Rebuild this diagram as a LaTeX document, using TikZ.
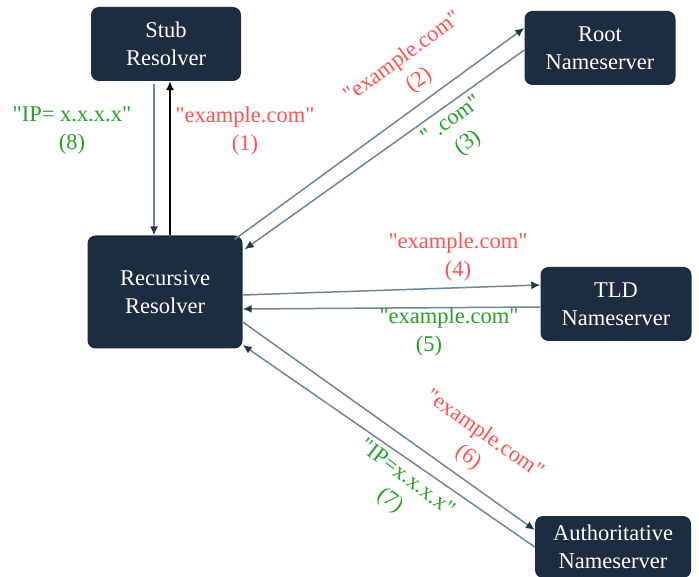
\documentclass[tikz,border=0pt]{standalone}
\usepackage{fontspec}
\setmainfont{Liberation Serif}
\usetikzlibrary{arrows.meta}
\definecolor{boxfill}{RGB}{27,45,63}
\definecolor{lnc}{RGB}{112,134,154}
\definecolor{tipc}{RGB}{35,55,75}
\definecolor{redt}{RGB}{255,82,82}
\definecolor{greent}{RGB}{40,160,40}
\newcommand\dq{\XeTeXglyph\XeTeXcharglyph"22\relax}
\begin{document}
\begin{tikzpicture}[x=1pt,y=-1pt,
  box/.style={fill=boxfill, rounded corners=8pt, text=white, align=center,
    font=\fontsize{22.5}{28}\selectfont, inner sep=0pt},
  conn/.style={draw=lnc, line width=1.5pt, -{Latex[length=9pt,width=8pt,color=tipc]}},
  blkconn/.style={draw=black, line width=1.3pt, -{Latex[length=9pt,width=8pt,color=black]}},
  lbl/.style={font=\fontsize{22.5}{28}\selectfont, align=center, inner sep=0pt},
  redl/.style={lbl, text=redt},
  greenl/.style={lbl, text=greent}]
\useasboundingbox (0,0) rectangle (699,577);

\node[box, minimum width=150pt, minimum height=74pt] (stub) at (166,44) {Stub\\Resolver};
\node[box, minimum width=151pt, minimum height=74pt] (root) at (600,48) {Root\\Nameserver};
\node[box, minimum width=155pt, minimum height=113pt] (rec) at (165,292) {Recursive\\Resolver};
\node[box, minimum width=151pt, minimum height=74pt] (tld) at (616,304) {TLD\\Nameserver};
\node[box, minimum width=156pt, minimum height=62pt] (auth) at (613,547) {Authoritative\\Nameserver};

% stub <-> recursive
\draw[conn, shorten <=3pt] ([xshift=-12pt]stub.south) -- ([xshift=-12pt]stub.south |- rec.north);
\draw[blkconn] ([xshift=5pt]rec.north) -- ([xshift=5pt]rec.north |- stub.south);
% recursive <-> root
\draw[conn] ([xshift=-8pt,yshift=-4pt]rec.north east) -- ([yshift=20pt]root.west);
\draw[conn] ([yshift=-2pt]root.west) -- ([xshift=2pt,yshift=-14pt]rec.north east);
% recursive <-> tld
\draw[conn] ([yshift=-3pt]rec.east) -- ([yshift=19pt]tld.west);
\draw[conn] ([yshift=-3pt]tld.west) -- ([yshift=-17pt]rec.east);
% recursive <-> auth
\draw[conn] ([yshift=-30pt]rec.east) -- ([yshift=17pt]auth.west);
\draw[conn] (auth.west) -- ([yshift=-53pt]rec.east);

% labels
\node[greenl] (l8) at (72,131) {\dq IP= x.x.x.x\dq\\(8)};
\node[redl] (l1) at (245,131) {\dq example.com\dq\\(1)};
\node[redl, rotate=36] (l2) at (411,69) {\dq example.com\dq\\(2)};
\node[greenl, rotate=36] (l3) at (460,132) {\dq\ .com\dq\\(3)};
\node[redl] (l4) at (458,257) {\dq example.com\dq\\(4)};
\node[greenl] (l5a) at (449,318) {\dq example.com\dq};
\node[greenl] (l5b) at (429,346) {(5)};
\node[redl, rotate=-35] (l6) at (476,446) {\dq example.com\dq\\(6)};
\node[greenl, rotate=-37] (l7) at (398,490) {\dq IP=x.x.x.x\dq\\(7)};
\end{tikzpicture}
\end{document}
